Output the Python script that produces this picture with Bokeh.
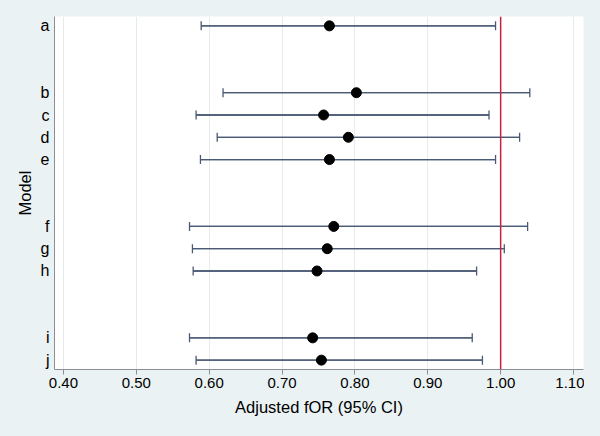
from bokeh.plotting import figure
from bokeh.models import Range1d, FixedTicker, Span, ColumnDataSource, Whisker
from bokeh.embed import file_html
from bokeh.resources import INLINE

models = ["a", "b", "c", "d", "e", "f", "g", "h", "i", "j"]
ypos = [1, 4, 5, 6, 7, 10, 11, 12, 15, 16]
estimate = [0.765, 0.802, 0.757, 0.791, 0.765, 0.771, 0.762, 0.748, 0.742, 0.754]
lower = [0.589, 0.619, 0.582, 0.611, 0.588, 0.573, 0.577, 0.578, 0.573, 0.582]
upper = [0.993, 1.040, 0.984, 1.026, 0.993, 1.037, 1.005, 0.967, 0.961, 0.975]
xticks = [0.4, 0.5, 0.6, 0.7, 0.8, 0.9, 1.0, 1.1]
xtick_labels = ["0.40", "0.50", "0.60", "0.70", "0.80", "0.90", "1.00", "1.10"]

FONT = "Liberation Sans"
BG = "#EAF2F3"

src = ColumnDataSource(dict(y=ypos, est=estimate, lo=lower, hi=upper))

p = figure(width=584, height=420, output_backend="svg", toolbar_location=None,
           x_range=Range1d(0.3877, 1.1137), y_range=Range1d(16.42, 0.58),
           background_fill_color="white", border_fill_color=BG,
           min_border_left=54, min_border_right=1, min_border_top=16, min_border_bottom=51)
p.outline_line_color = None

p.xgrid.grid_line_color = "#E6EBEE"
p.xgrid.grid_line_width = 1
p.ygrid.grid_line_color = None

p.xaxis.ticker = FixedTicker(ticks=xticks)
p.xaxis.major_label_overrides = {t: l for t, l in zip(xticks, xtick_labels)}
p.yaxis.ticker = FixedTicker(ticks=ypos)
p.yaxis.major_label_overrides = {y: m for y, m in zip(ypos, models)}
p.yaxis.minor_tick_line_color = None
p.xaxis.minor_tick_line_color = None
p.yaxis.major_tick_line_color = None
p.yaxis.major_tick_out = 0
p.yaxis.major_tick_in = 0

for ax in (p.xaxis[0], p.yaxis[0]):
    ax.axis_line_color = "#8a8f94"
    ax.major_label_text_font = FONT
    ax.major_label_text_font_size = "15px"
    ax.major_label_text_color = "black"
    ax.axis_label_text_font = FONT
    ax.axis_label_text_font_size = "16.5px"
    ax.axis_label_text_font_style = "normal"
    ax.axis_label_text_color = "black"

p.xaxis.major_tick_line_color = "#8a8f94"
p.xaxis.major_tick_out = 5
p.xaxis.major_tick_in = 0
p.xaxis.major_label_standoff = 3
p.xaxis.axis_label = "Adjusted fOR (95% CI)"
p.xaxis.axis_label_standoff = 7

p.yaxis.major_label_standoff = 5
p.yaxis.axis_label = "Model"
p.yaxis.axis_label_standoff = 4
p.yaxis.major_label_text_font_size = "16px"

p.segment(x0="lo", x1="hi", y0="y", y1="y", source=src, line_color="#4A5A73", line_width=1.3)
w = Whisker(base="y", lower="lo", upper="hi", source=src, dimension="width",
            line_color="#4A5A73", line_width=1.3)
w.lower_head.size = 9
w.upper_head.size = 9
w.lower_head.line_color = "#4A5A73"
w.upper_head.line_color = "#4A5A73"
w.lower_head.line_width = 1.3
w.upper_head.line_width = 1.3
p.add_layout(w)

p.add_layout(Span(location=1.0, dimension="height", line_color="#C8203E", line_width=1.5))

p.scatter(x="est", y="y", source=src, size=10, color="black")

template = """
{% block postamble %}
<style>html, body { background: #EAF2F3; }</style>
{% endblock %}
"""

open("out.html", "w").write(file_html(p, INLINE, template=template))
